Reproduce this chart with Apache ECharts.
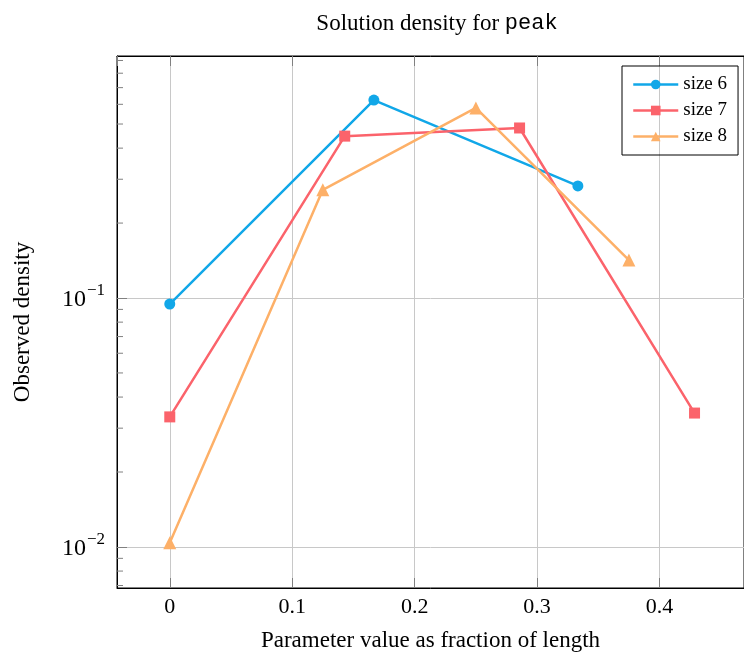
<!DOCTYPE html>
<html>
<head>
<meta charset="utf-8">
<script src="https://cdn.jsdelivr.net/npm/echarts@6/dist/echarts.min.js"></script>
<style>
  html, body { margin: 0; padding: 0; background: #fff; }
  #chart { width: 744px; height: 662px; }
</style>
</head>
<body>
<div id="chart"></div>
<script>
// ---- data ----
const size6X = [0, 0.1667, 0.3333];
const size6Y = [0.0946, 0.624, 0.282];
const size7X = [0, 0.1429, 0.2857, 0.4286];
const size7Y = [0.0333, 0.447, 0.482, 0.0345];
const size8X = [0, 0.125, 0.25, 0.375];
const size8Y = [0.0104, 0.272, 0.580, 0.142];
const seriesNames = ['size 6', 'size 7', 'size 8'];
// minor ticks of the log axis (2..9 x 10^k)
const minorTicks = [0.007, 0.008, 0.009, 0.02, 0.03, 0.04, 0.05, 0.06, 0.07, 0.08, 0.09,
  0.2, 0.3, 0.4, 0.5, 0.6, 0.7, 0.8, 0.9];

const X_MIN = -0.0431, X_MAX = 0.469;
const Y_MIN = 0.00684, Y_MAX = 0.938;
const COLORS = ['#11a7e8', '#fb636b', '#fdb068'];
const SERIF = 'Liberation Serif';

const pairs = (xs, ys) => xs.map((x, i) => [x, ys[i]]);

function xLabel(v) {
  const r = Math.round(v * 10);
  if (Math.abs(v * 10 - r) > 1e-6) return '';
  return r === 0 ? '0' : (r / 10).toFixed(1);
}
function yLabel(v) {
  const e = Math.log10(v);
  if (Math.abs(e - Math.round(e)) > 1e-6) return '';
  return '{base|10}{sup|−' + Math.abs(Math.round(e)) + '}';
}

const chart = echarts.init(document.getElementById('chart'), null, { renderer: 'canvas' });

const lineSeries = (name, data, symbol, size, i) => ({
  name, type: 'line', data, symbol, symbolSize: size,
  lineStyle: { width: 2.5, color: COLORS[i] },
  itemStyle: { color: COLORS[i] },
  emphasis: { disabled: true },
  animation: false, z: 3,
});

const tickStyle = { show: true, inside: true, length: 10, lineStyle: { color: '#808080' } };
const axisLineStyle = { show: true, onZero: false, lineStyle: { color: '#000', width: 1 } };

chart.setOption({
  animation: false,
  title: {
    text: 'Solution density for {mono|peak}',
    left: 432, top: 7, textAlign: 'center',
    textStyle: {
      fontFamily: SERIF, fontSize: 23, fontWeight: 'normal', color: '#000',
      rich: { mono: { fontFamily: 'Liberation Mono', fontSize: 22, color: '#000' } },
    },
  },
  legend: {
    orient: 'vertical', left: 622, top: 66,
    padding: [9, 11, 9, 10],
    borderColor: '#000', borderWidth: 1,
    itemWidth: 45, itemHeight: 12, itemGap: 7,
    lineStyle: { width: 2.5 },
    textStyle: { fontFamily: SERIF, fontSize: 19, color: '#000' },
    data: seriesNames,
  },
  grid: {
    left: 117, top: 56, right: -3, bottom: 74,
    show: true, borderColor: '#000', borderWidth: 1,
  },
  xAxis: [{
    type: 'value', min: X_MIN, max: X_MAX, splitNumber: 5,
    name: 'Parameter value as fraction of length',
    nameLocation: 'middle', nameGap: 41,
    nameTextStyle: { fontFamily: SERIF, fontSize: 23, color: '#000' },
    axisLine: axisLineStyle,
    axisTick: tickStyle,
    axisLabel: { margin: 8, formatter: xLabel, fontFamily: SERIF, fontSize: 22, color: '#000',
      showMinLabel: false, showMaxLabel: false },
    splitLine: { show: true, lineStyle: { color: '#c8c8c8', width: 1 } },
  }, {
    type: 'value', position: 'top', min: X_MIN, max: X_MAX, splitNumber: 5,
    axisLine: axisLineStyle,
    axisTick: tickStyle,
    axisLabel: { show: false },
    splitLine: { show: false },
  }],
  yAxis: {
    type: 'log', logBase: 10, min: Y_MIN, max: Y_MAX,
    name: 'Observed density',
    nameLocation: 'middle', nameGap: 83,
    nameTextStyle: { fontFamily: SERIF, fontSize: 23, color: '#000' },
    axisLine: axisLineStyle,
    axisTick: tickStyle,
    axisLabel: {
      margin: 12, formatter: yLabel, showMinLabel: false, showMaxLabel: false,
      fontFamily: SERIF, fontSize: 22, color: '#000',
      rich: {
        base: { fontFamily: SERIF, fontSize: 24, lineHeight: 24, padding: [4, 0, 0, 0] },
        sup: { fontFamily: SERIF, fontSize: 17, lineHeight: 17, padding: [0, 0, 14, 1] },
      },
    },
    splitLine: { show: true, lineStyle: { color: '#c8c8c8', width: 1 } },
  },
  series: [
    lineSeries(seriesNames[0], pairs(size6X, size6Y), 'circle', 11, 0),
    lineSeries(seriesNames[1], pairs(size7X, size7Y), 'rect', 11, 1),
    lineSeries(seriesNames[2], pairs(size8X, size8Y), 'triangle', 13, 2),
    {
      // minor ticks on the left axis, placed through the log scale
      type: 'custom', silent: true, z: 2,
      data: minorTicks.map((v) => [X_MIN, v]),
      renderItem: (params, api) => {
        const p = api.coord([api.value(0), api.value(1)]);
        return {
          type: 'line',
          shape: { x1: p[0], y1: p[1], x2: p[0] + 6, y2: p[1] },
          style: { stroke: '#808080', lineWidth: 1 },
        };
      },
    },
  ],
});
</script>
</body>
</html>
